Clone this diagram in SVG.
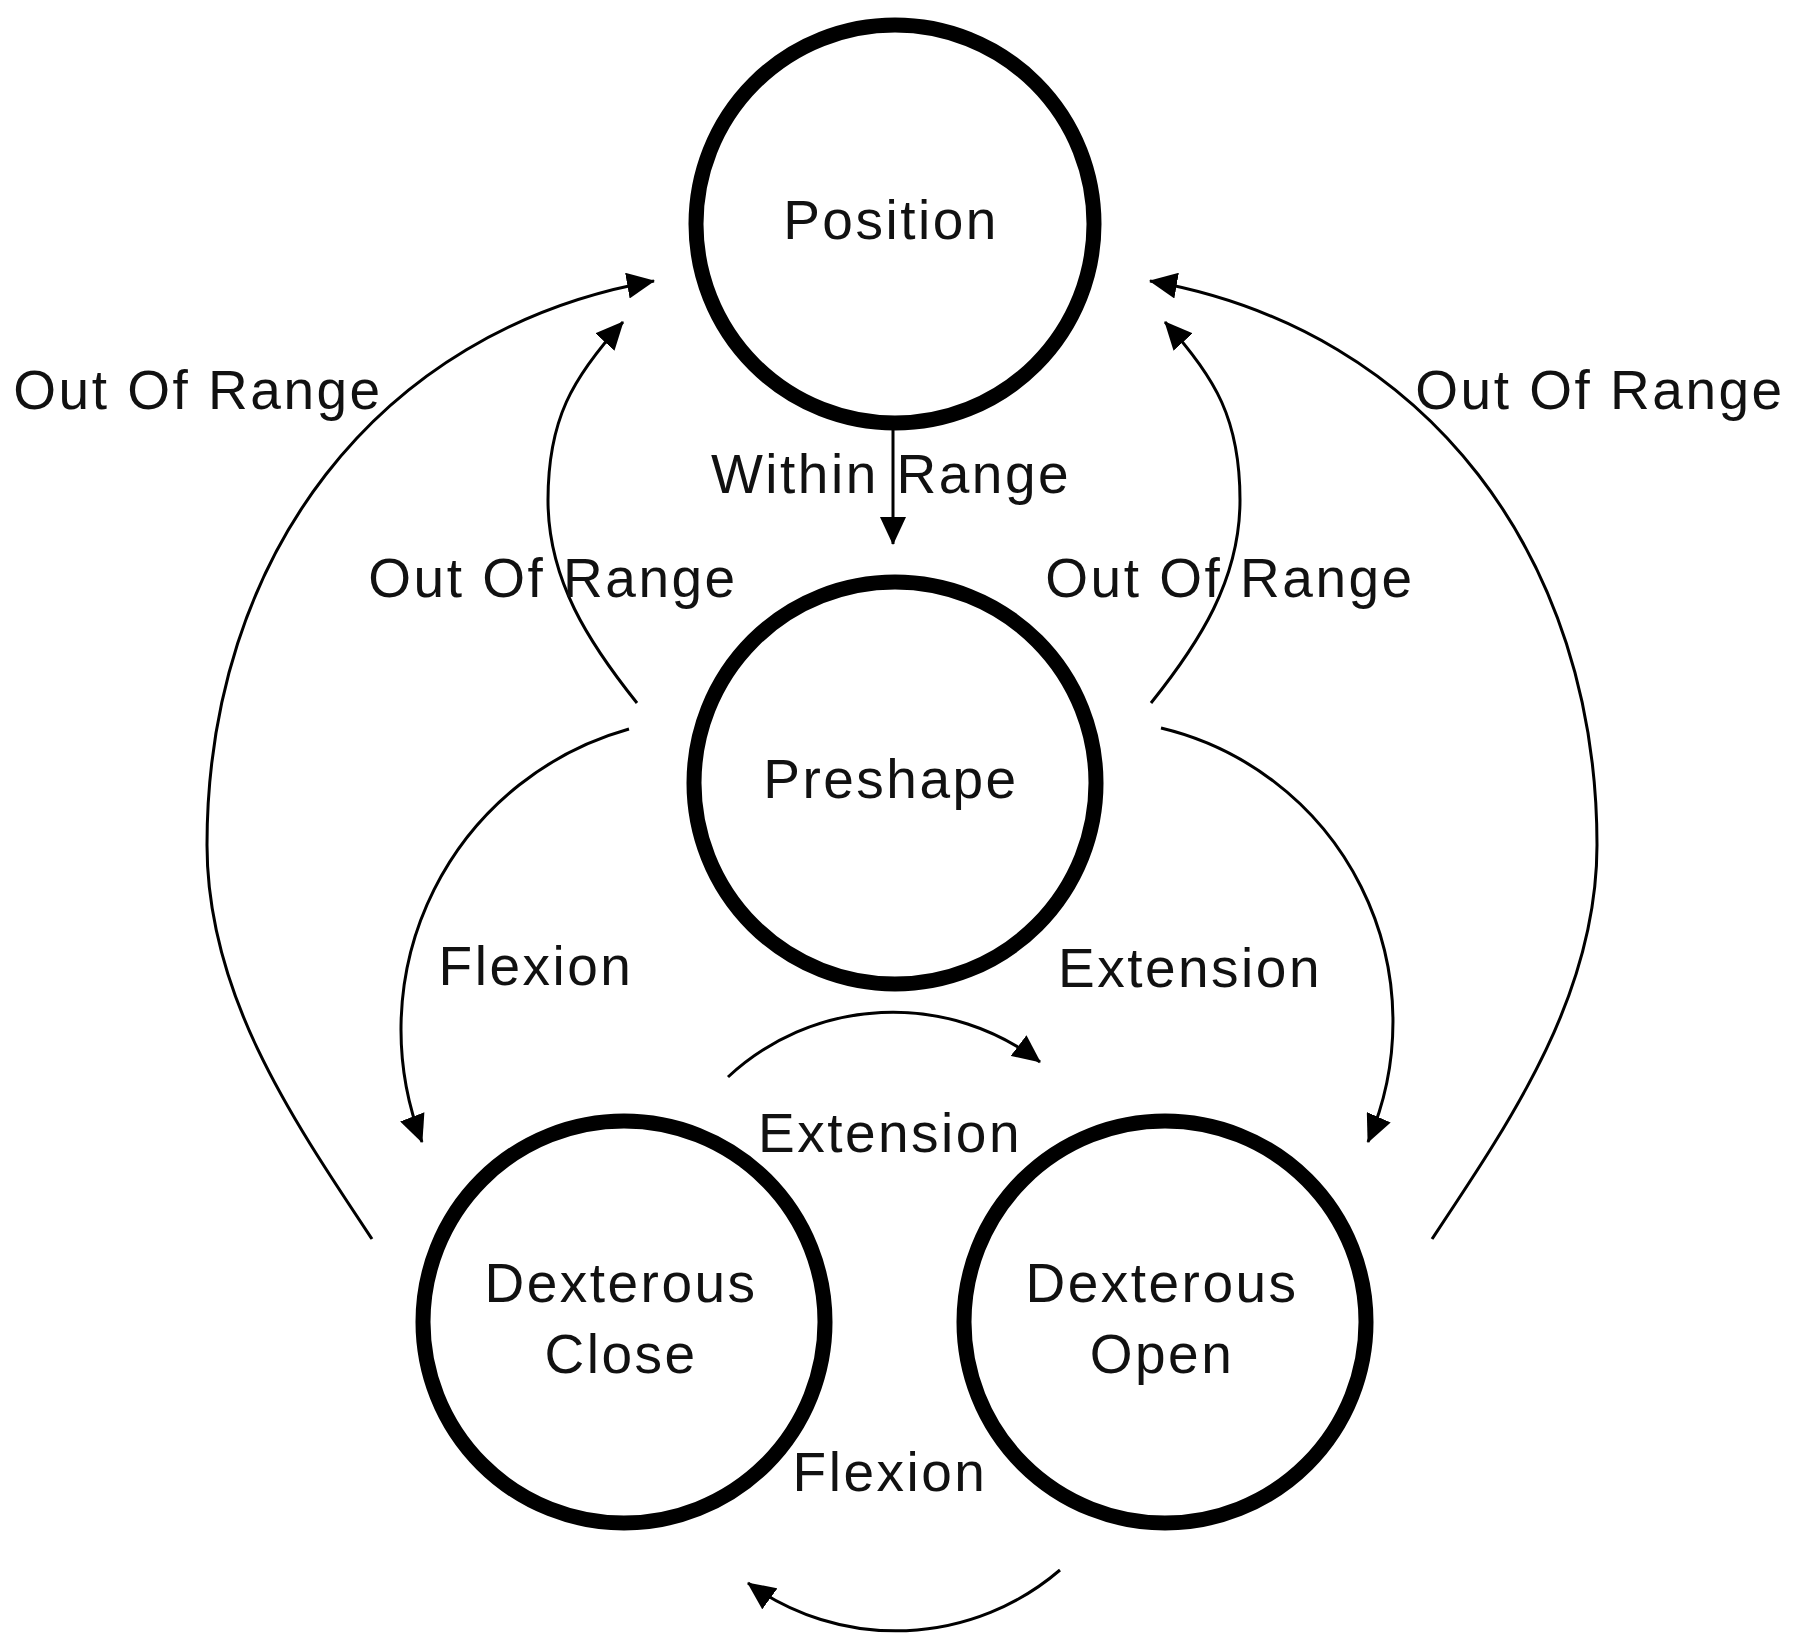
<svg xmlns="http://www.w3.org/2000/svg" width="1800" height="1648" viewBox="0 0 1800 1648">
<defs>
<style>
.node{fill:#fff;stroke:#000;stroke-width:15}
.lbl{font-family:"Liberation Sans",Arial,sans-serif;font-size:55px;letter-spacing:2.5px;fill:#111;text-anchor:middle}
.edge{fill:none;stroke:#000;stroke-width:3;marker-end:url(#arrow)}
</style>
<marker id="arrow" markerUnits="userSpaceOnUse" markerWidth="28" markerHeight="26" viewBox="0 0 28 26" refX="27" refY="13" orient="auto">
<path d="M0,0 L28,13 L0,26 z" fill="#000"/>
</marker>
</defs>
<rect width="1800" height="1648" fill="#fff"/>
<g id="connectors">
<path class="edge" d="M893,405 L893,544"/>
<path class="edge" d="M372,1239 C290,1116 207,993 207,845 C207,560 375,330 654,281"/>
<path class="edge" d="M1432,1239 C1514,1116 1597,993 1597,845 C1597,560 1429,330 1150,281"/>
<path class="edge" d="M637,703 C589,643 548,580 548,500 C548,420 572,378 623,322"/>
<path class="edge" d="M1151,703 C1199,643 1240,580 1240,500 C1240,420 1216,378 1165,322"/>
<path class="edge" d="M629,729 A312,312 0 0 0 422,1142"/>
<path class="edge" d="M1161,728 A302,302 0 0 1 1368,1142"/>
<path class="edge" d="M728,1077 A242,242 0 0 1 1040,1062"/>
<path class="edge" d="M1060,1570 A252,252 0 0 1 748,1583"/>
</g>
<g id="edge-labels">
<text class="lbl" x="891" y="493">Within Range</text>
<text class="lbl" x="198" y="409">Out Of Range</text>
<text class="lbl" x="1600" y="409">Out Of Range</text>
<text class="lbl" x="553" y="597">Out Of Range</text>
<text class="lbl" x="1230" y="597">Out Of Range</text>
<text class="lbl" x="536" y="985">Flexion</text>
<text class="lbl" x="1190" y="987">Extension</text>
<text class="lbl" x="890" y="1152">Extension</text>
<text class="lbl" x="890" y="1491">Flexion</text>
</g>
<g id="node-position">
<circle class="node" cx="895" cy="224" r="199"/>
<text class="lbl" x="891" y="239">Position</text>
</g>
<g id="node-preshape">
<circle class="node" cx="895" cy="783" r="201"/>
<text class="lbl" x="891" y="798">Preshape</text>
</g>
<g id="node-dexterous-close">
<circle class="node" cx="624" cy="1322" r="201"/>
<text class="lbl" x="621" y="1302">Dexterous</text>
<text class="lbl" x="621" y="1373">Close</text>
</g>
<g id="node-dexterous-open">
<circle class="node" cx="1165" cy="1322" r="201"/>
<text class="lbl" x="1162" y="1302">Dexterous</text>
<text class="lbl" x="1162" y="1373">Open</text>
</g>
</svg>
